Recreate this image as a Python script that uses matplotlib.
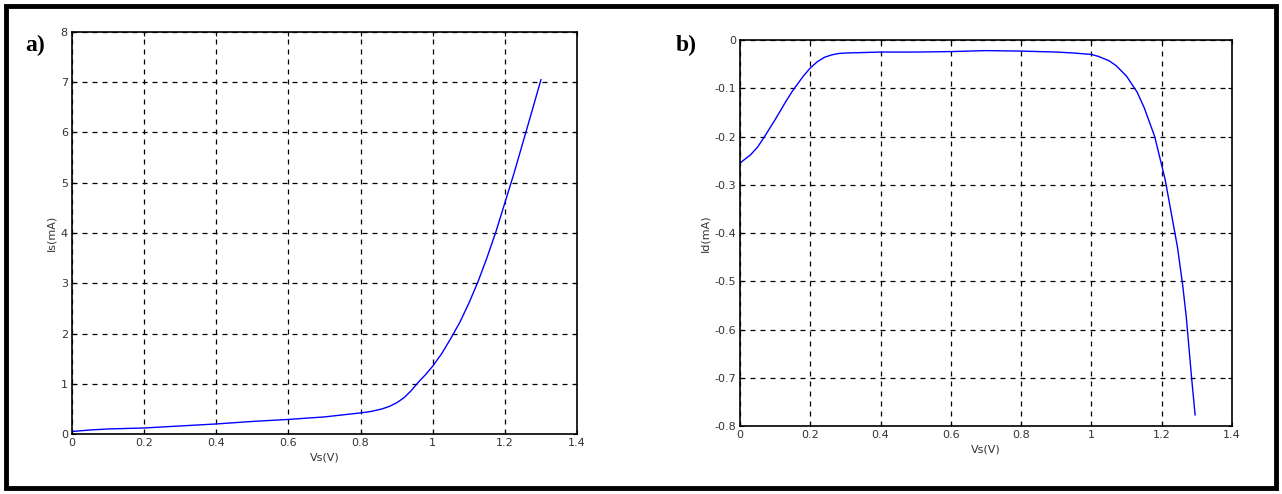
import numpy as np
import matplotlib
matplotlib.use('Agg')
import matplotlib.pyplot as plt
from matplotlib.patches import Rectangle

# panel a) source current vs source voltage
vs_a = [0.0, 0.05, 0.1, 0.2, 0.3, 0.4, 0.5, 0.6, 0.7, 0.8, 0.83, 0.86, 0.88, 0.9,
        0.92, 0.94, 0.96, 0.98, 1.0, 1.025, 1.05, 1.075, 1.1, 1.125, 1.15, 1.175,
        1.2, 1.225, 1.25, 1.275, 1.3]
is_a = [0.05, 0.08, 0.1, 0.12, 0.16, 0.2, 0.25, 0.29, 0.34, 0.42, 0.45, 0.5, 0.55, 0.62,
        0.72, 0.86, 1.03, 1.18, 1.35, 1.6, 1.9, 2.22, 2.6, 3.02, 3.5, 4.02,
        4.6, 5.18, 5.8, 6.42, 7.05]

# panel b) diode current vs source voltage
vs_b = [0.0, 0.03, 0.05, 0.07, 0.1, 0.13, 0.15, 0.18, 0.2, 0.22, 0.24, 0.26, 0.28, 0.3,
        0.4, 0.5, 0.6, 0.7, 0.8, 0.9, 0.95, 1.0, 1.02, 1.05, 1.07, 1.1, 1.13, 1.15,
        1.165, 1.18, 1.195, 1.21, 1.225, 1.245, 1.26, 1.27, 1.285, 1.295]
id_b = [-0.255, -0.238, -0.222, -0.2, -0.165, -0.128, -0.105, -0.075, -0.058, -0.045,
        -0.036, -0.031, -0.028, -0.027, -0.025, -0.025, -0.024, -0.022, -0.023, -0.025,
        -0.027, -0.03, -0.034, -0.043, -0.053, -0.075, -0.108, -0.14,
        -0.17, -0.2, -0.245, -0.29, -0.35, -0.43, -0.51, -0.575, -0.7, -0.777]

W, H = 1282, 494
fig = plt.figure(figsize=(W / 100, H / 100), dpi=100)
fig.patch.set_facecolor('white')

# outer frame
fig.patches.append(Rectangle((6 / W, 6 / H), (W - 12) / W, (H - 12) / H,
                             transform=fig.transFigure, fill=False,
                             edgecolor='black', linewidth=3.5))


def style(ax):
    ax.grid(True, color='black', linestyle=(0, (4, 4)), linewidth=0.9)
    ax.tick_params(direction='in', length=3, labelsize=8, labelcolor='#333333',
                   top=True, right=True, pad=3)
    for s in ax.spines.values():
        s.set_linewidth(1.2)


ax1 = fig.add_axes([72 / W, (H - 434) / H, 505 / W, 402 / H])
ax1.plot(vs_a, is_a, color='#0000ff', linewidth=1.0)
ax1.set_xlim(0, 1.4)
ax1.set_ylim(0, 8)
ax1.set_xticks(np.arange(0, 1.41, 0.2))
ax1.set_xticklabels(['0', '0.2', '0.4', '0.6', '0.8', '1', '1.2', '1.4'])
ax1.set_yticks(range(0, 9))
ax1.set_xlabel('Vs(V)', fontsize=8, color='#333333', labelpad=3)
ax1.set_ylabel('Is(mA)', fontsize=8, color='#333333', labelpad=3)
style(ax1)

ax2 = fig.add_axes([740 / W, (H - 426) / H, 492 / W, 386 / H])
ax2.plot(vs_b, id_b, color='#0000ff', linewidth=1.0)
ax2.set_xlim(0, 1.4)
ax2.set_ylim(-0.8, 0)
ax2.set_xticks(np.arange(0, 1.41, 0.2))
ax2.set_xticklabels(['0', '0.2', '0.4', '0.6', '0.8', '1', '1.2', '1.4'])
ax2.set_yticks(np.arange(-0.8, 0.01, 0.1))
ax2.set_yticklabels(['-0.8', '-0.7', '-0.6', '-0.5', '-0.4', '-0.3', '-0.2', '-0.1', '0'])
ax2.set_xlabel('Vs(V)', fontsize=8, color='#333333', labelpad=3)
ax2.set_ylabel('Id(mA)', fontsize=8, color='#333333', labelpad=3)
style(ax2)

fig.text(25 / W, 1 - 45 / H, 'a)', fontsize=17, fontweight='bold',
         family='Liberation Serif', va='center')
fig.text(676 / W, 1 - 45 / H, 'b)', fontsize=17, fontweight='bold',
         family='Liberation Serif', va='center')

fig.savefig('out.png', dpi=100)
